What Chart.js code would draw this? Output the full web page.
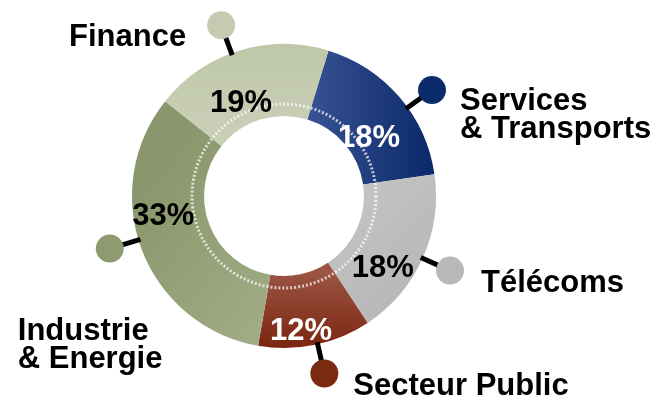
<!DOCTYPE html>
<html>
<head>
<meta charset="utf-8">
<script src="https://cdn.jsdelivr.net/npm/chart.js@4.4.1/dist/chart.umd.min.js"></script>
<style>
  html, body { margin: 0; padding: 0; background: #ffffff; }
  canvas { display: block; }
</style>
</head>
<body>
<canvas id="sectorChart" width="662" height="401"></canvas>
<script>
// data (clockwise from the top)
const categories = ['Services & Transports', 'Télécoms', 'Secteur Public', 'Industrie & Energie', 'Finance'];
const shares = [18, 18, 12, 33, 19];
const labelLines = [['Services', '& Transports'], ['Télécoms'], ['Secteur Public'], ['Industrie', '& Energie'], ['Finance']];
const percentLabels = shares.map(v => v + '%');

// styling
const gradStops = [
    ['#3f5b98', '#0a276a'],
    ['#c6c6c6', '#b4b4b4'],
    ['#9c5443', '#7a2610'],
    ['#8a966b', '#a2ad87'],
    ['#bfc7a8', '#ccd2bc']
];
// gradient direction as fractions of the chart area: x0, y0, x1, y1
const gradDirs = [
    [0.5, 0.5, 1, 0.5],
    [0.6, 0.5, 1, 0.9],
    [0.5, 0.75, 0.5, 1],
    [0, 0.5, 0.5, 0.9],
    [0.5, 0, 0.5, 0.4]
];
const dotColors = ['#0b2b6d', '#b8b8b8', '#7b2a12', '#8e9b71', '#c5cbb0'];
const pctColors = ['#ffffff', '#000000', '#ffffff', '#000000', '#000000'];

const ctx = document.getElementById('sectorChart').getContext('2d');

const sliceColor = (c) => {
    const area = c.chart.chartArea;
    const i = c.dataIndex;
    if (!area) return gradStops[i][1];
    const w = area.right - area.left, h = area.bottom - area.top;
    const d = gradDirs[i];
    const g = c.chart.ctx.createLinearGradient(area.left + d[0] * w, area.top + d[1] * h, area.left + d[2] * w, area.top + d[3] * h);
    g.addColorStop(0, gradStops[i][0]);
    g.addColorStop(1, gradStops[i][1]);
    return g;
};

const deg = Math.PI / 180;

const calloutPlugin = {
    id: 'callouts',
    afterDatasetsDraw(chart, args, opts) {
        const c = chart.ctx;
        const arcs = chart.getDatasetMeta(0).data;
        if (!arcs.length) return;
        const cx = arcs[0].x, cy = arcs[0].y;
        const outer = arcs[0].outerRadius;

        // dotted inner ring
        c.save();
        c.beginPath();
        c.arc(cx, cy, opts.ringRadius, 0, Math.PI * 2);
        c.strokeStyle = 'rgba(255,255,255,0.7)';
        c.lineWidth = 3;
        c.setLineDash([2, 2]);
        c.stroke();
        c.restore();

        arcs.forEach((arc, i) => {
            const mid = (arc.startAngle + arc.endAngle) / 2;

            // leader line + dot
            const a = mid + opts.dotShift[i] * deg;
            const dx = cx + Math.cos(a) * opts.dotRadius;
            const dy = cy + Math.sin(a) * opts.dotRadius;
            c.save();
            c.beginPath();
            c.moveTo(cx + Math.cos(a) * (outer - 2), cy + Math.sin(a) * (outer - 2));
            c.lineTo(dx, dy);
            c.strokeStyle = '#000000';
            c.lineWidth = 5;
            c.stroke();
            c.beginPath();
            c.arc(dx, dy, 14, 0, Math.PI * 2);
            c.fillStyle = dotColors[i];
            c.fill();
            c.restore();

            // category text (offset is to the first baseline)
            const off = opts.textOffset[i];
            c.save();
            c.font = 'bold 31px "Liberation Sans", Arial, sans-serif';
            c.fillStyle = '#000000';
            c.textAlign = off[2];
            c.textBaseline = 'alphabetic';
            labelLines[i].forEach((line, k) => {
                c.fillText(line, dx + off[0], dy + off[1] + k * 28);
            });
            c.restore();

            // percentage text
            const pa = mid + opts.pctShift[i] * deg;
            const pr = opts.pctRadius[i];
            c.save();
            c.font = 'bold 31px "Liberation Sans", Arial, sans-serif';
            c.fillStyle = pctColors[i];
            c.textAlign = 'center';
            c.textBaseline = 'alphabetic';
            c.fillText(percentLabels[i], cx + Math.cos(pa) * pr, cy + Math.sin(pa) * pr + 11);
            c.restore();
        });
    }
};

new Chart(ctx, {
    type: 'doughnut',
    data: {
        labels: categories,
        datasets: [{
            data: shares,
            backgroundColor: sliceColor,
            borderWidth: 0,
            hoverOffset: 0
        }]
    },
    options: {
        responsive: false,
        animation: false,
        devicePixelRatio: 1,
        rotation: 17,
        cutout: '52.6%',
        layout: { padding: { left: 132, right: 226, top: 44, bottom: 53 } },
        plugins: {
            legend: { display: false },
            tooltip: { enabled: false },
            callouts: {
                ringRadius: 92,
                dotRadius: 182,
                dotShift: [5, 0, -1, 4, -3],
                pctRadius: [104, 121, 134, 122, 104],
                pctShift: [5.4, 11, 4.5, 12.3, -7.2],
                // x offset, first-baseline offset from the dot, alignment
                textOffset: [[28, 20, 'left'], [31, 21, 'left'], [29, 22, 'left'], [-92, 91, 'left'], [-35, 21, 'right']]
            }
        }
    },
    plugins: [calloutPlugin]
});
</script>
</body>
</html>
